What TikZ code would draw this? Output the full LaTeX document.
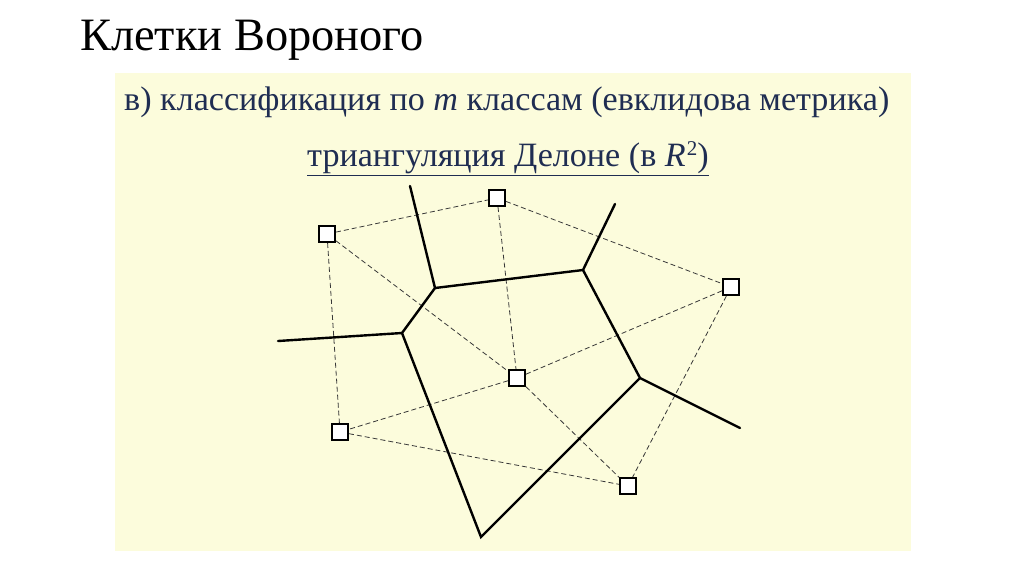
\documentclass[tikz,border=0pt]{standalone}
\usepackage{fontspec}
\setmainfont{Liberation Serif}
\definecolor{bgyellow}{HTML}{FCFCDC}
\definecolor{navy}{HTML}{1F2D52}
\definecolor{dashgray}{HTML}{383838}
\begin{document}
\begin{tikzpicture}[x=1pt,y=-1pt,
  site/.style={draw=black,fill=white,line width=2pt,minimum size=16pt,inner sep=0pt},
  vedge/.style={line width=2.4pt,black,line cap=round},
  dedge/.style={line width=0.8pt,dashgray,dash pattern=on 5pt off 3pt}]
\useasboundingbox (0,0) rectangle (1024,574);
\fill[white] (0,0) rectangle (1024,574);
\fill[bgyellow] (115,73) rectangle (911,551);
\node[anchor=base west,inner sep=0pt,font=\fontsize{46.4}{52}\selectfont] (title) at (80,50) {Клетки Вороного};
\node[anchor=base west,inner sep=0pt,text=navy,font=\fontsize{34.1}{39}\selectfont] (l1) at (124,110) {в) классификация по \textit{m} классам (евклидова метрика)};
\node[anchor=base west,inner sep=0pt,text=navy,font=\fontsize{34.1}{39}\selectfont] (l2) at (307,166) {\underline{триангуляция Делоне (в \textit{R}\kern1pt\raisebox{11pt}{\fontsize{21}{23}\selectfont 2})}};
% Voronoi vertices
\coordinate (v1) at (435,288);
\coordinate (v2) at (402,333);
\coordinate (v3) at (583,270);
\coordinate (v4) at (640,378);
\coordinate (v5) at (481,537);
\coordinate (r1) at (410,186);
\coordinate (r2) at (278,341);
\coordinate (r3) at (615,204);
\coordinate (r4) at (740,428);
% sites
\node[site] (a) at (327,234) {};
\node[site] (b) at (497,198) {};
\node[site] (c) at (731,287) {};
\node[site] (d) at (517,378) {};
\node[site] (e) at (340,432) {};
\node[site] (f) at (628,486) {};
\draw[dedge] (a) -- (b);
\draw[dedge] (a) -- (e);
\draw[dedge] (a) -- (d);
\draw[dedge] (b) -- (d);
\draw[dedge] (b) -- (c);
\draw[dedge] (c) -- (d);
\draw[dedge] (c) -- (f);
\draw[dedge] (d) -- (e);
\draw[dedge] (d) -- (f);
\draw[dedge] (e) -- (f);
\draw[vedge] (r1) -- (v1) -- (v3) -- (r3);
\draw[vedge] (v1) -- (v2) -- (r2);
\draw[vedge] (v2) -- (v5) -- (v4) -- (r4);
\draw[vedge] (v3) -- (v4);
% redraw sites on top
\node[site] at (a) {};
\node[site] at (b) {};
\node[site] at (c) {};
\node[site] at (d) {};
\node[site] at (e) {};
\node[site] at (f) {};
\end{tikzpicture}
\end{document}
